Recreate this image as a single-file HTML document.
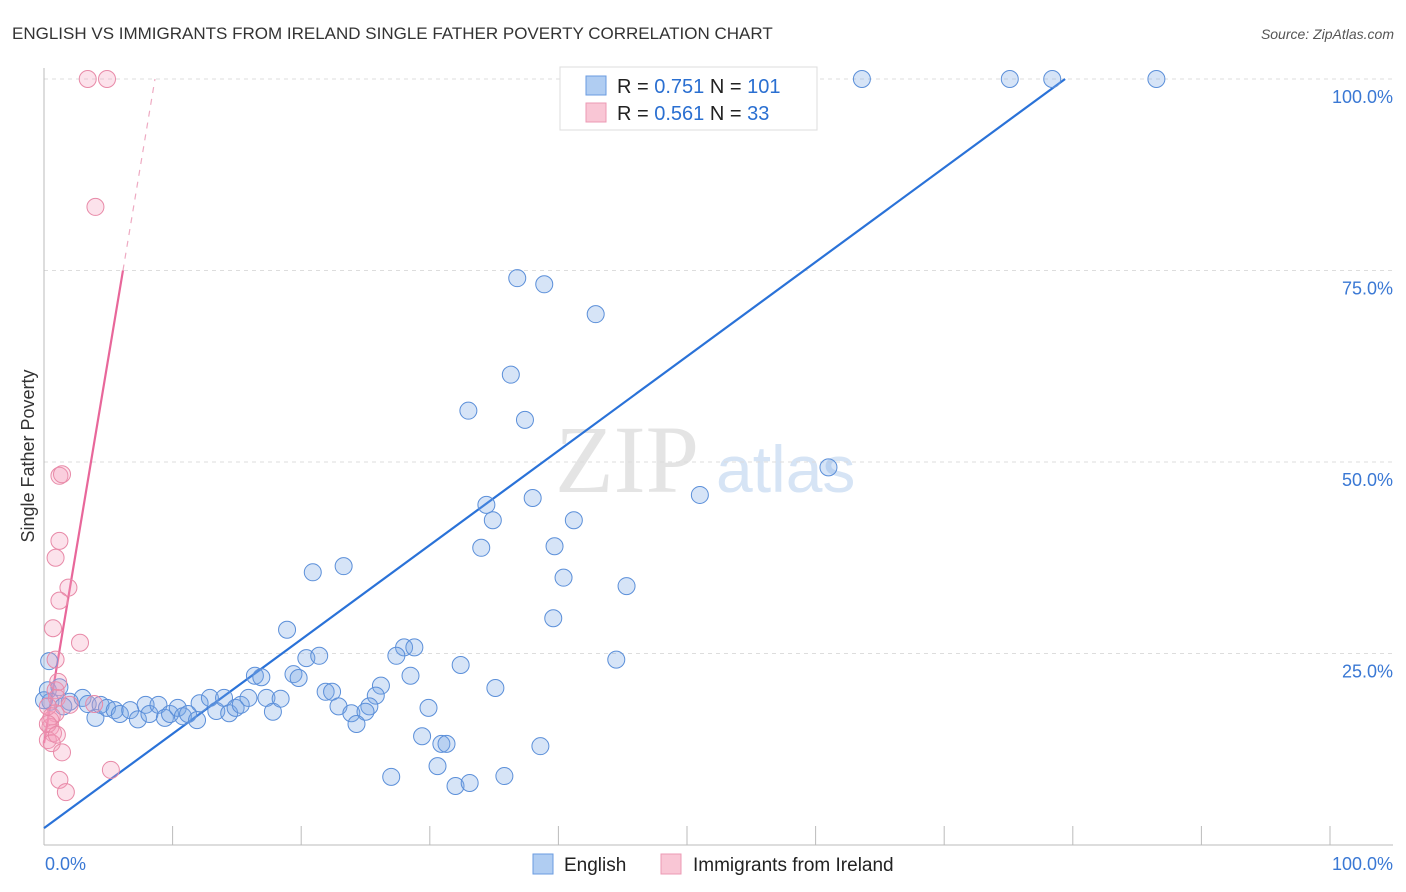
<!DOCTYPE html>
<html><head><meta charset="utf-8"><style>
body{margin:0;background:#fff;font-family:"Liberation Sans",sans-serif}
svg{display:block}
</style></head><body>
<svg width="1406" height="892" xmlns="http://www.w3.org/2000/svg">
<text x="12" y="39" font-size="17" fill="#333">ENGLISH VS IMMIGRANTS FROM IRELAND SINGLE FATHER POVERTY CORRELATION CHART</text>
<text x="1394" y="39" font-size="14" fill="#555" font-style="italic" text-anchor="end">Source: ZipAtlas.com</text>
<text x="555" y="492" font-size="96" fill="#e4e4e4" font-family="Liberation Serif,serif">ZIP</text>
<text x="716" y="492" font-size="66" fill="#d6e4f5">atlas</text>
<text transform="translate(34,456) rotate(-90)" font-size="18" fill="#333" text-anchor="middle">Single Father Poverty</text>
<g id="grid"></g><g id="axes"></g><g id="lines"></g><g id="pts"></g>
<g>
<rect x="560" y="67" width="257" height="63" fill="#fff" stroke="#ddd"/>
<rect x="586" y="76" width="20" height="19" fill="#b0cdf2" stroke="#6a9be0"/>
<rect x="586" y="103" width="20" height="19" fill="#f9c6d5" stroke="#ec9ab4"/>
<text x="617" y="93" font-size="20" fill="#222">R = <tspan fill="#2a6fd1">0.751</tspan>   N = <tspan fill="#2a6fd1">101</tspan></text>
<text x="617" y="120" font-size="20" fill="#222">R = <tspan fill="#2a6fd1">0.561</tspan>   N = <tspan fill="#2a6fd1"> 33</tspan></text>
</g>
<g>
<rect x="533" y="854" width="20" height="20" fill="#b0cdf2" stroke="#6a9be0"/>
<text x="564" y="871" font-size="19" fill="#222">English</text>
<rect x="661" y="854" width="20" height="20" fill="#f9c6d5" stroke="#ec9ab4"/>
<text x="693" y="871" font-size="19" fill="#222">Immigrants from Ireland</text>
</g>
</svg>
<script>
const yTicks=[25,50,75,100];
const yTickLabels=["25.0%","50.0%","75.0%","100.0%"];
const englishX=[41.1,43.2,44.2,45.4,46.5,47.5,48.3,54.0,63.6,75.1,78.4,86.5,36.8,38.9,42.9,36.3,33.0,37.4,61.0,51.0,38.0,34.4,34.9,41.2,34.0,39.7,40.4,45.3,20.9,23.3,39.6,18.9,44.5,32.4,28.0,28.8,27.4,20.4,21.4,16.4,16.9,19.4,19.8,28.5,26.2,25.8,21.9,22.4,35.1,29.9,22.9,25.3,23.9,25.0,24.3,29.4,30.9,31.3,38.6,30.6,27.0,35.8,32.0,33.1,0.4,0.3,1.2,0.5,2.0,3.0,3.4,4.0,4.4,4.9,5.5,5.9,6.7,7.3,7.9,8.2,8.9,9.4,9.8,10.4,10.8,11.2,11.9,12.1,12.9,13.4,14.0,14.4,14.9,15.3,15.9,17.3,17.8,18.4,1.5,0.0];
const englishY=[100,100,100,100,100,100,100,100,100,100,100,100,74.0,73.2,69.3,61.4,56.7,55.5,49.3,45.7,45.3,44.4,42.4,42.4,38.8,39.0,34.9,33.8,35.6,36.4,29.6,28.1,24.2,23.5,25.8,25.8,24.7,24.4,24.7,22.1,21.9,22.3,21.8,22.1,20.8,19.5,20.0,20.0,20.5,17.9,18.1,18.1,17.2,17.4,15.8,14.2,13.2,13.2,12.9,10.3,8.9,9.0,7.7,8.1,24.0,20.2,20.6,18.7,18.7,19.2,18.4,16.6,18.3,17.9,17.6,17.1,17.6,16.4,18.3,17.1,18.3,16.6,17.1,17.9,16.8,17.1,16.3,18.5,19.2,17.5,19.2,17.2,17.9,18.3,19.2,19.2,17.4,19.1,18.1,18.9];
const irelandX=[3.4,4.9,4.0,1.2,1.4,1.2,0.9,1.9,1.2,0.7,2.8,0.9,0.9,1.0,2.0,0.9,0.5,0.5,0.7,0.3,0.6,1.4,1.2,1.7,5.2,1.1,0.3,0.6,0.3,1.0,3.9];
const irelandY=[100,100,83.3,48.2,48.4,39.7,37.5,33.6,31.9,28.3,26.4,24.2,20.2,19.2,18.3,17.2,16.3,15.4,14.6,13.7,13.3,12.1,8.5,6.9,9.8,21.3,18.1,16.8,15.8,14.4,18.4];
const englishLine=[[0,2.2],[79.4,100]];
const irelandLineSolid=[[0,13.3],[6.14,75]];
const irelandLineDash=[[6.14,75],[8.63,100]];
const X0=44,X1=1330,Y0=845,Y1=79;
const sx=v=>X0+(X1-X0)*v/100, sy=v=>Y0-(Y0-Y1)*v/100;
const NS="http://www.w3.org/2000/svg";
function mk(p,t,a){const e=document.createElementNS(NS,t);for(const k in a)e.setAttribute(k,a[k]);p.appendChild(e);return e;}
const grid=document.getElementById('grid'),axes=document.getElementById('axes'),lines=document.getElementById('lines'),pts=document.getElementById('pts');
yTicks.forEach((t,i)=>{
 const l=mk(grid,'line',{x1:X0,x2:1393,y1:sy(t),y2:sy(t),stroke:'#ddd','stroke-dasharray':'4,4'});
 
 
 const tx=mk(grid,'text',{x:1393,y:sy(t)+24,'font-size':18,fill:'#3a78d4','text-anchor':'end'});
 tx.textContent=yTickLabels[i];
 
 
});
const ya=mk(axes,'line',{x1:X0,x2:X0,y1:68,y2:Y0,stroke:'#bbb'});


const xa=mk(axes,'line',{x1:X0,x2:1393,y1:Y0,y2:Y0,stroke:'#bbb'});


for(let i=0;i<=10;i++){
 const t=mk(axes,'line',{x1:sx(i*10),x2:sx(i*10),y1:826,y2:Y0,stroke:'#bbb'});
 
 
}
const xl0=mk(axes,'text',{x:45,y:870,'font-size':18,fill:'#3a78d4'});xl0.textContent='0.0%';


const xl1=mk(axes,'text',{x:1393,y:870,'font-size':18,fill:'#3a78d4','text-anchor':'end'});xl1.textContent='100.0%';


function ln(seg,col,w,dash,name){const a={x1:sx(seg[0][0]),y1:sy(seg[0][1]),x2:sx(seg[1][0]),y2:sy(seg[1][1]),stroke:col,'stroke-width':w};if(dash)a['stroke-dasharray']=dash;const e=mk(lines,'line',a);
 
 }
ln(englishLine,'#2a72d8',2.2,null,'english-trend-line');
ln(irelandLineSolid,'#e8679a',2.2,null,'ireland-trend-line');
ln(irelandLineDash,'#eeaac2',1.2,'6,6','ireland-trend-extension');
englishX.forEach((x,i)=>{const c=mk(pts,'circle',{cx:sx(x),cy:sy(englishY[i]),r:8.5,fill:'rgba(120,165,230,0.3)',stroke:'#5b8fd9','stroke-width':1});
 
 });
irelandX.forEach((x,i)=>{const c=mk(pts,'circle',{cx:sx(x),cy:sy(irelandY[i]),r:8.5,fill:'rgba(245,160,190,0.3)',stroke:'#e88aa8','stroke-width':1});
 
 });
</script>
</body></html>
